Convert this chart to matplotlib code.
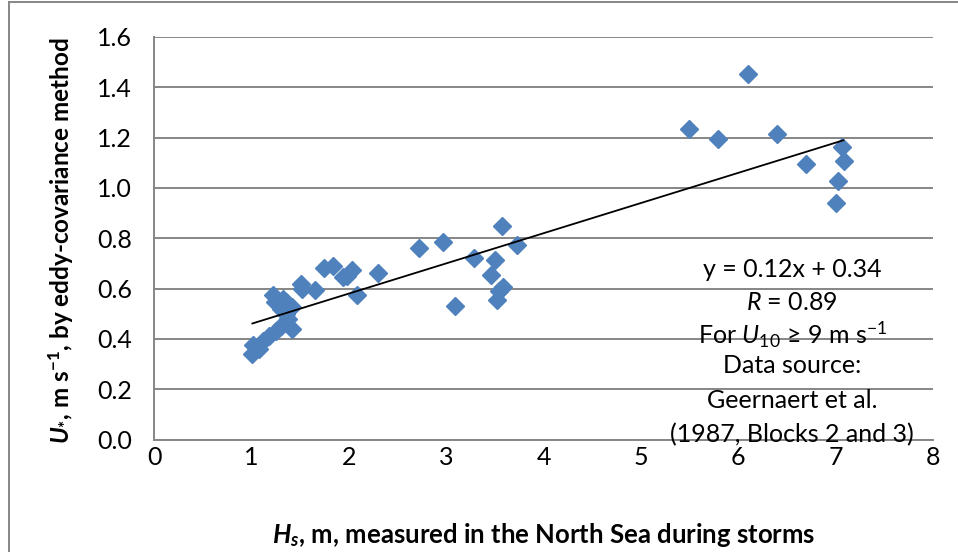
import matplotlib
matplotlib.use("Agg")
import matplotlib.pyplot as plt
from matplotlib.lines import Line2D
import numpy as np

plt.rcParams['font.family'] = ['Lato', 'DejaVu Sans']
plt.rcParams['mathtext.fontset'] = 'custom'
plt.rcParams['mathtext.rm'] = 'Lato'
plt.rcParams['mathtext.it'] = 'Lato:italic'
plt.rcParams['mathtext.bf'] = 'Lato:bold'
plt.rcParams['mathtext.bfit'] = 'Lato:bold:italic'

# Hs (m) and U* (m/s)
hs = [1.01, 1.02, 1.08, 1.12, 1.18, 1.25, 1.30, 1.38, 1.42, 1.36,
      1.30, 1.42, 1.24, 1.22, 1.32, 1.36, 1.51, 1.52, 1.65, 1.75,
      1.84, 1.94, 1.98, 2.03, 2.08, 2.30, 2.72, 2.97, 3.09, 3.29,
      3.46, 3.50, 3.52, 3.54, 3.58, 3.57, 3.73,
      5.49, 5.79, 6.10, 6.40, 6.70, 7.06, 7.08, 7.02, 7.00]
ustar = [0.34, 0.375, 0.36, 0.39, 0.41, 0.43, 0.45, 0.48, 0.44, 0.50,
         0.52, 0.525, 0.545, 0.575, 0.56, 0.545, 0.62, 0.60, 0.595, 0.68,
         0.69, 0.645, 0.65, 0.675, 0.575, 0.66, 0.76, 0.785, 0.53, 0.72,
         0.655, 0.715, 0.555, 0.59, 0.605, 0.85, 0.775,
         1.234, 1.194, 1.453, 1.214, 1.095, 1.163, 1.107, 1.028, 0.94]

slope, intercept = 0.12, 0.34
x_ticks = [0, 1, 2, 3, 4, 5, 6, 7, 8]
y_ticks = [0.0, 0.2, 0.4, 0.6, 0.8, 1.0, 1.2, 1.4, 1.6]

note_lines = [r'y = 0.12x + 0.34',
              r'$\mathit{R}$ = 0.89',
              r'For $\mathit{U}_{10}$ ≥ 9 m s$^{-1}$',
              'Data source:',
              'Geernaert et al.',
              '(1987, Blocks 2 and 3)']

grid_col = '#868686'

fig = plt.figure(figsize=(9.58, 5.52), dpi=100)
ax = fig.add_axes([0.1608, 0.2038, 0.8132, 0.7292])

ax.plot(hs, ustar, linestyle='none', marker='D', markersize=9.5,
        color='#4F81BD', zorder=3)

xs = np.array([min(hs), max(hs)])
ax.plot(xs, slope * xs + intercept, color='black', linewidth=1.3, zorder=4)

ax.set_xlim(0, 8)
ax.set_ylim(0, 1.6)
ax.set_xticks(x_ticks)
ax.set_yticks(y_ticks)
ax.set_yticklabels([f'{v:.1f}' for v in y_ticks])
ax.tick_params(length=0, labelsize=18, colors='black')
ax.tick_params(axis='y', pad=16)
ax.tick_params(axis='x', pad=5)
ax.grid(axis='y', color=grid_col, linewidth=1.4)
ax.set_axisbelow(True)
for s in ['top', 'right']:
    ax.spines[s].set_visible(False)
for s in ['left', 'bottom']:
    ax.spines[s].set_color(grid_col)
    ax.spines[s].set_linewidth(1.4)

ax.set_xlabel(r'$\mathbfit{H}_{\mathbfit{s}}$, m, measured in the North Sea during storms',
              fontsize=18.5, fontweight='bold', labelpad=37)
ax.set_ylabel(r'$\mathbfit{U}_{\mathbf{*}}$, m s$^{\mathbf{-1}}$, by eddy-covariance method',
              fontsize=17.5, fontweight='bold')
ax.yaxis.set_label_coords(-0.101, 0.495)

note_y = [0.422, 0.340, 0.261, 0.184, 0.097, 0.013]
for txt, yy in zip(note_lines, note_y):
    ax.text(0.819, yy, txt, transform=ax.transAxes, ha='center', va='center',
            fontsize=18)

# outer frame (left and top)
fig.add_artist(Line2D([0.0094, 0.0094], [0, 0.996], color=grid_col, linewidth=1.4))
fig.add_artist(Line2D([0.0094, 1.0], [0.996, 0.996], color=grid_col, linewidth=1.4))

fig.savefig('out.png', dpi=100)
